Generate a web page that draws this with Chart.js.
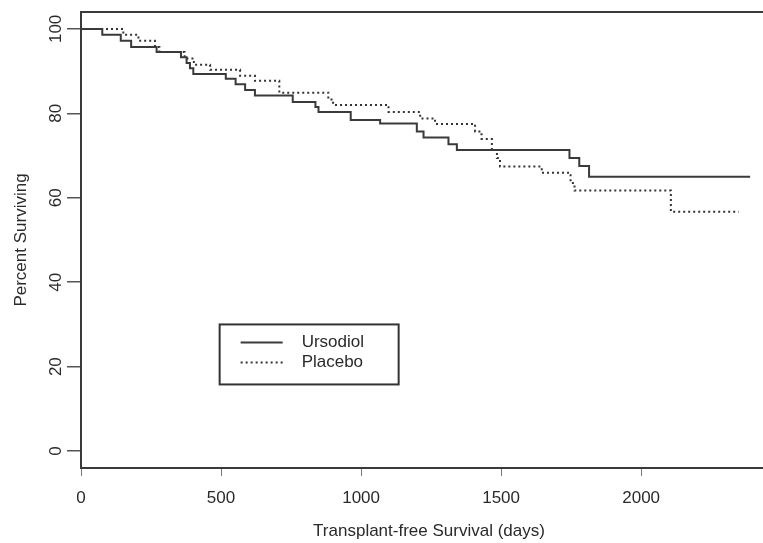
<!DOCTYPE html>
<html>
<head>
<meta charset="utf-8">
<title>Transplant-free Survival</title>
<script src="https://cdn.jsdelivr.net/npm/chart.js@4/dist/chart.umd.min.js"></script>
<style>
  html, body { margin: 0; padding: 0; background: #fff; }
  canvas { display: block; }
</style>
</head>
<body>
<canvas id="survivalChart" width="763" height="543"></canvas>
<script>
// Kaplan-Meier curves (days, percent surviving)
const ursodiolDays = [0, 76, 142, 179, 270, 357, 377, 389, 401, 517, 552, 586, 621, 756, 837, 848, 963, 1068, 1199, 1223, 1312, 1342, 1744, 1779, 1814, 2389];
const ursodiolPct  = [100, 98.6, 97.2, 95.7, 94.5, 93.3, 91.9, 90.7, 89.3, 88.2, 86.9, 85.5, 84.2, 82.7, 81.5, 80.3, 78.4, 77.6, 75.7, 74.3, 72.7, 71.3, 69.4, 67.5, 65.0, 65.0];

const placeboDays = [0, 151, 205, 264, 280, 370, 403, 461, 568, 621, 708, 883, 900, 1098, 1211, 1264, 1407, 1430, 1467, 1485, 1496, 1645, 1748, 1762, 2106, 2348];
const placeboPct  = [100, 98.6, 97.2, 95.7, 94.5, 93.0, 91.5, 90.3, 88.9, 87.7, 84.9, 83.3, 82.0, 80.3, 78.8, 77.5, 75.7, 73.9, 71.3, 69.4, 67.4, 65.9, 63.5, 61.7, 56.7, 56.7];

const xTicks = [0, 500, 1000, 1500, 2000];
const yTicks = [0, 20, 40, 60, 80, 100];
const seriesNames = ['Ursodiol', 'Placebo'];

const xTitle = 'Transplant-free Survival (days)';
const yTitle = 'Percent Surviving';

const FONT = '"Liberation Sans", Arial, Helvetica, sans-serif';
const INK = '#2a2a2a';

function toPoints(days, pct) {
    return days.map((d, i) => ({ x: d, y: pct[i] }));
}

// Frame, rotated y labels, axis titles and legend box
const framePlugin = {
    id: 'frame',
    afterDraw(chart) {
        const ctx = chart.ctx;
        const area = chart.chartArea;
        const xs = chart.scales.x;
        const ys = chart.scales.y;

        ctx.save();
        // top edge of the box
        ctx.strokeStyle = '#3a3a3a';
        ctx.lineWidth = 2;
        ctx.beginPath();
        ctx.moveTo(area.left - 1, area.top);
        ctx.lineTo(area.right, area.top);
        ctx.stroke();

        // y tick labels, rotated like R's default
        ctx.fillStyle = INK;
        ctx.font = '17px ' + FONT;
        ctx.textAlign = 'center';
        ctx.textBaseline = 'middle';
        yTicks.forEach(v => {
            ctx.save();
            ctx.translate(56, ys.getPixelForValue(v));
            ctx.rotate(-Math.PI / 2);
            ctx.fillText(String(v), 0, 0);
            ctx.restore();
        });

        // axis titles
        ctx.save();
        ctx.translate(21, (area.top + area.bottom) / 2);
        ctx.rotate(-Math.PI / 2);
        ctx.fillText(yTitle, 0, 0);
        ctx.restore();
        ctx.fillText(xTitle, 429, 531);

        // legend
        const lx = xs.getPixelForValue(495);
        const ly = ys.getPixelForValue(30);
        ctx.lineWidth = 2;
        ctx.strokeStyle = '#333';
        ctx.strokeRect(lx, ly, 179, 60);
        chart.data.datasets.forEach((ds, i) => {
            const rowY = ly + 18 + i * 20;
            ctx.save();
            ctx.strokeStyle = ds.borderColor;
            ctx.lineWidth = ds.borderWidth;
            ctx.setLineDash(ds.borderDash || []);
            ctx.beginPath();
            ctx.moveTo(lx + 21, rowY);
            ctx.lineTo(lx + 63, rowY);
            ctx.stroke();
            ctx.restore();
            ctx.textAlign = 'left';
            ctx.fillText(ds.label, lx + 82, rowY);
        });
        ctx.restore();
    }
};

const ctx = document.getElementById('survivalChart').getContext('2d');
const survivalChart = new Chart(ctx, {
    type: 'line',
    data: {
        datasets: [{
            label: seriesNames[0],
            data: toPoints(ursodiolDays, ursodiolPct),
            borderColor: '#3a3a3a',
            borderWidth: 2,
            stepped: 'before',
            pointRadius: 0,
            fill: false
        }, {
            label: seriesNames[1],
            data: toPoints(placeboDays, placeboPct),
            borderColor: '#333333',
            borderWidth: 2,
            borderDash: [2, 3],
            stepped: 'before',
            pointRadius: 0,
            fill: false
        }]
    },
    options: {
        responsive: false,
        animation: false,
        events: [],
        layout: { padding: { top: 12, left: 0, right: 0, bottom: 0 } },
        plugins: {
            legend: { display: false },
            tooltip: { enabled: false }
        },
        scales: {
            x: {
                type: 'linear',
                min: 0,
                max: 2435,
                afterBuildTicks: axis => { axis.ticks = xTicks.map(v => ({ value: v })); },
                afterFit: axis => { axis.height = 75; },
                border: { display: true, color: '#3a3a3a', width: 2 },
                grid: { drawOnChartArea: false, drawTicks: true, tickLength: 8, color: '#777', lineWidth: 1 },
                ticks: {
                    color: INK,
                    padding: 12,
                    maxRotation: 0,
                    font: { family: FONT, size: 17 },
                    callback: value => String(value)
                }
            },
            y: {
                type: 'linear',
                min: -4,
                max: 104,
                afterBuildTicks: axis => { axis.ticks = yTicks.map(v => ({ value: v })); },
                afterFit: axis => { axis.width = 81; },
                border: { display: true, color: '#3a3a3a', width: 2 },
                grid: { drawOnChartArea: false, drawTicks: true, tickLength: 14, color: '#555', lineWidth: 1.5 },
                ticks: { display: false }
            }
        }
    },
    plugins: [framePlugin]
});
</script>
</body>
</html>
